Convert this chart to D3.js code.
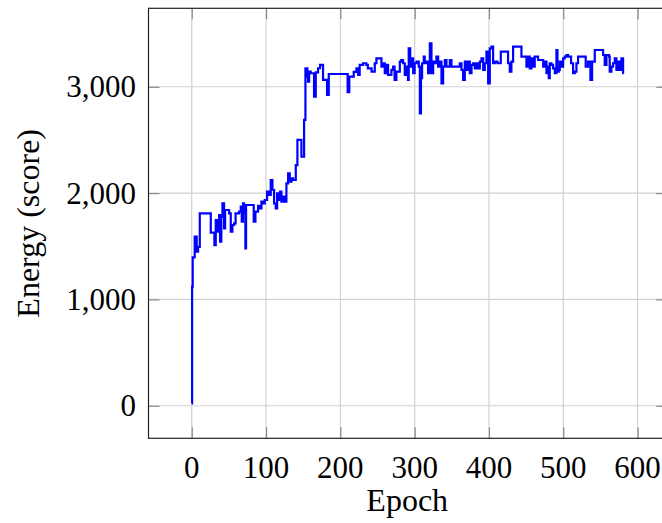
<!DOCTYPE html>
<html>
<head>
<meta charset="utf-8">
<script src="https://cdn.jsdelivr.net/npm/d3@7"></script>
<style>
  body { margin: 0; background: #fff; }
  svg text { font-family: "Liberation Serif", "DejaVu Serif", serif; fill: #000; }
</style>
</head>
<body>
<script>
// step plot: epoch where the value changes, and the new value
var epochs = [0, 0.5, 1.3, 4, 6.7, 8.5, 10.8, 25.6, 30.5, 32.3, 34.5, 36.8, 38.1, 39.8, 41.3, 43.5, 44.9, 50.3, 52.5, 54.7,
  57, 59, 63.7, 66, 67.3, 69, 70.4, 71.8, 72.2, 73.1, 83.4, 85.7, 89.3, 91.5, 93.8, 96, 98.3, 101.4, 104, 106.3,
  108.6, 110.8, 113, 114.9, 117.1, 118.9, 120.7, 123, 125.2, 127.4, 129.7, 131.9, 134.2, 136.4, 140, 142.2, 147.6, 151.2, 153, 155.6,
  156.5, 158, 160.1, 164.6, 166.9, 170, 172.7, 176.7, 182.1, 184.4, 209.8, 212, 218, 221.6, 224, 226, 230.6, 235, 237, 242,
  246.3, 248.5, 255.3, 257.5, 259.8, 262, 264.2, 268.7, 271, 273, 275.4, 280, 282, 284.4, 286.7, 289, 291, 292, 294, 295.6,
  298, 300, 302.4, 305.5, 307, 308.5, 310, 312.3, 313.6, 315.9, 318.1, 320.4, 322.6, 324.9, 327.1, 329.3, 331.6, 333.8, 336.1, 338.3,
  340.6, 342.8, 347.3, 349.5, 360.7, 363, 365.2, 367.5, 369.7, 372, 374.2, 376.5, 378.7, 380.9, 383.2, 385.4, 387.7, 389.9, 392.2, 394.4,
  396.6, 398.9, 401.1, 403.4, 405.6, 407.9, 411.4, 415.9, 425.7, 428, 430.2, 432.5, 443.7, 450.4, 452.7, 454.9, 457.2, 459.4, 461.6, 466.1,
  472.9, 475.1, 477.4, 478.7, 480.5, 481.8, 484.1, 486.3, 488.6, 490.8, 492.2, 494, 495.3, 497.5, 499.8, 502, 504.3, 506.5, 510.5, 513.2,
  515.4, 517.7, 519.9, 530.2, 533.4, 536.5, 538.8, 542.4, 553.6, 555.8, 558.1, 561.6, 562.5, 564.8, 567, 569.3, 571.5, 573.8, 576, 578.2,
  580.5, 581.4];
var energy = [22, 1120, 1396, 1590, 1449, 1495, 1810, 1628, 1511, 1746, 1637, 1794, 1543, 1778, 1903, 1668, 1841, 1810, 1637, 1700,
  1716, 1810, 1825, 1872, 1731, 1903, 1810, 1888, 1480, 1888, 1731, 1825, 1880, 1856, 1919, 1903, 1935, 2013, 1982, 2123,
  2030, 1902, 1856, 1997, 1935, 2013, 1919, 1966, 1919, 2092, 2186, 2107, 2139, 2123, 2264, 2500, 2343, 2688, 3174, 3096,
  3048, 3143, 3127, 2907, 3136, 3174, 3205, 3064, 2923, 3120, 2950, 3095, 3140, 3173, 3111, 3205, 3221, 3205, 3173, 3142,
  3221, 3268, 3189, 3221, 3127, 3205, 3111, 3158, 3189, 3064, 3142, 3236, 3252, 3221, 3111, 3189, 3064, 3362, 3189, 3268,
  3127, 3221, 3236, 3189, 2750, 3080, 3221, 3283, 3221, 3236, 3127, 3409, 3127, 3236, 3221, 3283, 3189, 3236, 3032, 3189,
  3252, 3189, 3252, 3189, 3221, 3158, 3064, 3236, 3158, 3236, 3127, 3205, 3221, 3173, 3221, 3173, 3236, 3268, 3158, 3221,
  3330, 3032, 3362, 3377, 3221, 3236, 3221, 3330, 3221, 3142, 3236, 3377, 3283, 3189, 3283, 3173, 3268, 3189, 3283, 3252,
  3189, 3236, 3127, 3189, 3080, 3221, 3205, 3173, 3127, 3346, 3142, 3158, 3236, 3189, 3268, 3283, 3299, 3283, 3221, 3127,
  3142, 3221, 3283, 3189, 3236, 3064, 3236, 3346, 3299, 3205, 3299, 3283, 3142, 3189, 3221, 3268, 3158, 3236, 3158, 3268,
  3127, 3127];
var xTicks = [0, 100, 200, 300, 400, 500, 600];
var yTicks = [0, 1000, 2000, 3000];

var width = 662, height = 523;
var padLeft = 148.5, padTop = 8.3, padBottom = 438.3, padRight = 667.3;

var data = epochs.map((e, i) => [e, energy[i]]);

const xScale = d3.scaleLinear().domain([-58.2, 640]).range([padLeft, padRight]);
const yScale = d3.scaleLinear().domain([-306, 3738]).range([padBottom, padTop]);

const svg = d3.select("body").append("svg")
  .attr("width", width)
  .attr("height", height);

// grid
svg.append("g").selectAll("line")
  .data(xTicks).enter().append("line")
  .attr("x1", d => xScale(d)).attr("x2", d => xScale(d))
  .attr("y1", padTop).attr("y2", padBottom)
  .attr("stroke", "#d2d2d2").attr("stroke-width", 1.2);
svg.append("g").selectAll("line")
  .data(yTicks).enter().append("line")
  .attr("x1", padLeft).attr("x2", padRight)
  .attr("y1", d => yScale(d)).attr("y2", d => yScale(d))
  .attr("stroke", "#d2d2d2").attr("stroke-width", 1.2);

// tick stubs drawn inside the box
const xAxis = d3.axisBottom(xScale).tickValues(xTicks).tickSize(-11).tickFormat("");
const xAxisTop = d3.axisTop(xScale).tickValues(xTicks).tickSize(-11).tickFormat("");
const yAxis = d3.axisLeft(yScale).tickValues(yTicks).tickSize(-11).tickFormat("");
const yAxisRight = d3.axisRight(yScale).tickValues(yTicks).tickSize(-11).tickFormat("");

[[xAxis, "translate(0," + padBottom + ")"], [xAxisTop, "translate(0," + padTop + ")"],
 [yAxis, "translate(" + padLeft + ",0)"], [yAxisRight, "translate(" + padRight + ",0)"]].forEach(a => {
  const g = svg.append("g").attr("transform", a[1]).call(a[0]);
  g.select(".domain").remove();
  g.selectAll(".tick line").attr("stroke", "#8a8a8a").attr("stroke-width", 1.2);
});

// step line
const line = d3.line()
  .x(d => xScale(d[0]))
  .y(d => yScale(d[1]))
  .curve(d3.curveStepAfter);

svg.append("path")
  .datum(data)
  .attr("d", line)
  .attr("fill", "none")
  .attr("stroke", "#0000ff")
  .attr("stroke-width", 2.2)
  .attr("stroke-linejoin", "miter");

// frame
svg.append("rect")
  .attr("x", padLeft).attr("y", padTop)
  .attr("width", padRight - padLeft).attr("height", padBottom - padTop)
  .attr("fill", "none").attr("stroke", "#222").attr("stroke-width", 1.2);

// tick labels
svg.append("g").selectAll("text")
  .data(xTicks).enter().append("text")
  .attr("x", d => xScale(d))
  .attr("y", 478)
  .attr("text-anchor", "middle")
  .attr("font-size", 31)
  .text(d => d);

svg.append("g").selectAll("text")
  .data(yTicks).enter().append("text")
  .attr("x", 136)
  .attr("y", d => yScale(d) + 10.5)
  .attr("text-anchor", "end")
  .attr("font-size", 31)
  .text(d => d3.format(",")(d));

// axis titles
svg.append("text")
  .attr("x", xScale(290))
  .attr("y", 511)
  .attr("text-anchor", "middle")
  .attr("font-size", 32)
  .text("Epoch");

svg.append("text")
  .attr("transform", "translate(39," + ((padTop + padBottom) / 2) + ") rotate(-90)")
  .attr("text-anchor", "middle")
  .attr("font-size", 32)
  .text("Energy (score)");
</script>
</body>
</html>
